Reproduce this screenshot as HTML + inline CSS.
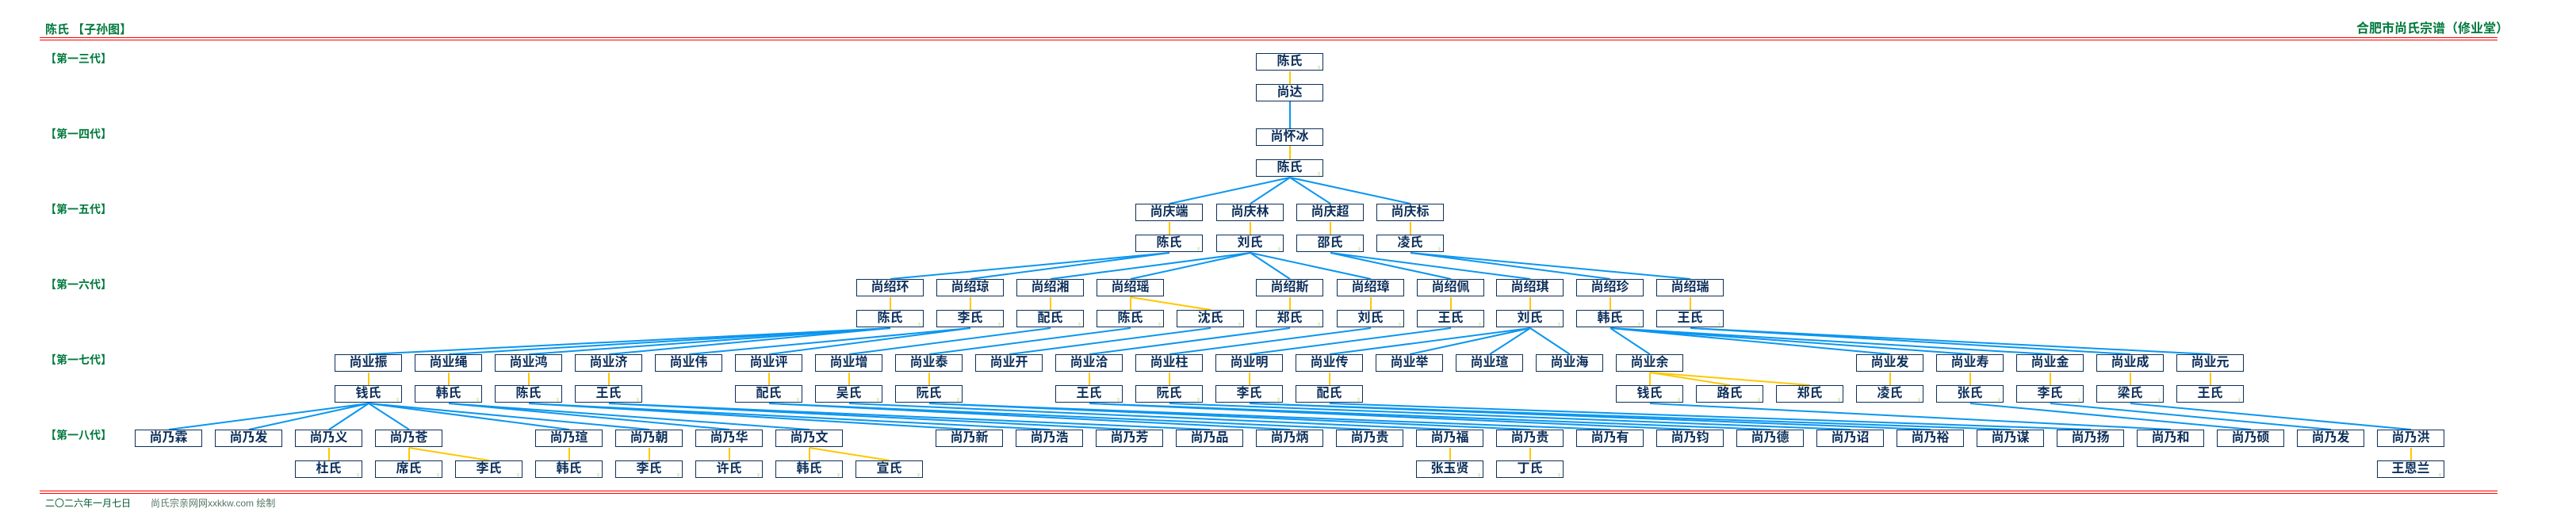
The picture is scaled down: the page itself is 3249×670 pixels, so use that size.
<!DOCTYPE html>
<html><head><meta charset="utf-8">
<style>
body{margin:0;width:3249px;height:670px;background:#fff;position:relative;overflow:hidden;font-family:"Liberation Sans","Noto Sans CJK SC","WenQuanYi Zen Hei",sans-serif;}
.b{position:absolute;width:83px;height:20px;border:1.5px solid #0d2f5a;background:#fff;color:#0d2f5a;font-size:16px;font-weight:bold;line-height:19px;text-align:center;box-sizing:content-box;}
.f::after{content:"♀";position:absolute;right:1px;bottom:-2px;font-size:9px;color:#99cc33;font-weight:normal;line-height:10px;}
.g{position:absolute;left:57px;color:#007a3d;font-size:14px;font-weight:bold;line-height:14px;}
.hl{position:absolute;left:50px;width:3100px;height:1px;background:#f00;}
svg{position:absolute;left:0;top:0;}
</style></head><body>
<div class="g" style="top:31px;font-size:15px">陈氏 【子孙图】</div>
<div class="g" style="top:30px;left:2972px;font-size:16px">合肥市尚氏宗谱（修业堂）</div>
<div class="hl" style="top:47px"></div><div class="hl" style="top:50px"></div>
<div class="hl" style="top:619px"></div><div class="hl" style="top:622px"></div>
<div class="g" style="top:628px;font-size:12px;font-weight:normal;color:#005a30">二〇二六年一月七日</div>
<div class="g" style="top:628px;left:190px;font-size:12px;font-weight:normal;color:#557766">尚氏宗亲网网xxkkw.com 绘制</div>
<div class="g" style="top:67px">【第一三代】</div>
<div class="g" style="top:162px">【第一四代】</div>
<div class="g" style="top:257px">【第一五代】</div>
<div class="g" style="top:352px">【第一六代】</div>
<div class="g" style="top:447px">【第一七代】</div>
<div class="g" style="top:542px">【第一八代】</div>

<svg width="3249" height="670">
<g stroke="#ffc800" stroke-width="2">
<line x1="1627" y1="90" x2="1627" y2="106"/>
<line x1="1627" y1="184" x2="1627" y2="201"/>
<line x1="1475" y1="280" x2="1475" y2="296"/><line x1="1577" y1="280" x2="1577" y2="296"/><line x1="1678" y1="280" x2="1678" y2="296"/><line x1="1779" y1="280" x2="1779" y2="296"/>
<line x1="1123" y1="375" x2="1123" y2="391"/><line x1="1224" y1="375" x2="1224" y2="391"/><line x1="1325" y1="375" x2="1325" y2="391"/><line x1="1426" y1="375" x2="1426" y2="391"/><line x1="1426" y1="375" x2="1527" y2="391"/><line x1="1627" y1="375" x2="1627" y2="391"/><line x1="1729" y1="375" x2="1729" y2="391"/><line x1="1830" y1="375" x2="1830" y2="391"/><line x1="1930" y1="375" x2="1930" y2="391"/><line x1="2031" y1="375" x2="2031" y2="391"/><line x1="2132" y1="375" x2="2132" y2="391"/>
<line x1="465" y1="470" x2="465" y2="486"/><line x1="566" y1="470" x2="566" y2="486"/><line x1="667" y1="470" x2="667" y2="486"/><line x1="768" y1="470" x2="768" y2="486"/><line x1="970" y1="470" x2="970" y2="486"/><line x1="1071" y1="470" x2="1071" y2="486"/><line x1="1172" y1="470" x2="1172" y2="486"/><line x1="1374" y1="470" x2="1374" y2="486"/><line x1="1475" y1="470" x2="1475" y2="486"/><line x1="1576" y1="470" x2="1576" y2="486"/><line x1="1677" y1="470" x2="1677" y2="486"/><line x1="2081" y1="470" x2="2081" y2="486"/><line x1="2081" y1="470" x2="2182" y2="486"/><line x1="2081" y1="470" x2="2283" y2="486"/><line x1="2384" y1="470" x2="2384" y2="486"/><line x1="2485" y1="470" x2="2485" y2="486"/><line x1="2586" y1="470" x2="2586" y2="486"/><line x1="2687" y1="470" x2="2687" y2="486"/><line x1="2788" y1="470" x2="2788" y2="486"/>
<line x1="415" y1="565" x2="415" y2="581"/><line x1="516" y1="565" x2="516" y2="581"/><line x1="516" y1="565" x2="617" y2="581"/><line x1="718" y1="565" x2="718" y2="581"/><line x1="819" y1="565" x2="819" y2="581"/><line x1="920" y1="565" x2="920" y2="581"/><line x1="1021" y1="565" x2="1021" y2="581"/><line x1="1021" y1="565" x2="1122" y2="581"/><line x1="1829" y1="565" x2="1829" y2="581"/><line x1="1930" y1="565" x2="1930" y2="581"/><line x1="3041" y1="565" x2="3041" y2="581"/>
</g>
<g stroke="#0a96f0" stroke-width="2">
<line x1="1627" y1="128" x2="1627" y2="162"/>
<line x1="1627" y1="224" x2="1475" y2="257"/><line x1="1627" y1="224" x2="1577" y2="257"/><line x1="1627" y1="224" x2="1678" y2="257"/><line x1="1627" y1="224" x2="1779" y2="257"/>
<line x1="1475" y1="319" x2="1123" y2="352"/><line x1="1475" y1="319" x2="1224" y2="352"/>
<line x1="1577" y1="319" x2="1325" y2="352"/><line x1="1577" y1="319" x2="1426" y2="352"/><line x1="1577" y1="319" x2="1627" y2="352"/><line x1="1577" y1="319" x2="1729" y2="352"/>
<line x1="1678" y1="319" x2="1830" y2="352"/><line x1="1678" y1="319" x2="1930" y2="352"/>
<line x1="1779" y1="319" x2="2031" y2="352"/><line x1="1779" y1="319" x2="2132" y2="352"/>
<line x1="1123" y1="414" x2="465" y2="447"/><line x1="1123" y1="414" x2="566" y2="447"/><line x1="1123" y1="414" x2="667" y2="447"/><line x1="1123" y1="414" x2="768" y2="447"/>
<line x1="1224" y1="414" x2="869" y2="447"/><line x1="1224" y1="414" x2="970" y2="447"/>
<line x1="1325" y1="414" x2="1071" y2="447"/><line x1="1426" y1="414" x2="1172" y2="447"/><line x1="1527" y1="414" x2="1273" y2="447"/><line x1="1627" y1="414" x2="1374" y2="447"/><line x1="1729" y1="414" x2="1475" y2="447"/><line x1="1830" y1="414" x2="1576" y2="447"/>
<line x1="1930" y1="414" x2="1677" y2="447"/><line x1="1930" y1="414" x2="1778" y2="447"/><line x1="1930" y1="414" x2="1879" y2="447"/><line x1="1930" y1="414" x2="1980" y2="447"/>
<line x1="2031" y1="414" x2="2081" y2="447"/><line x1="2031" y1="414" x2="2384" y2="447"/><line x1="2031" y1="414" x2="2485" y2="447"/><line x1="2031" y1="414" x2="2586" y2="447"/>
<line x1="2132" y1="414" x2="2687" y2="447"/><line x1="2132" y1="414" x2="2788" y2="447"/>
<line x1="465" y1="509" x2="213" y2="542"/><line x1="465" y1="509" x2="314" y2="542"/><line x1="465" y1="509" x2="415" y2="542"/><line x1="465" y1="509" x2="516" y2="542"/><line x1="465" y1="509" x2="718" y2="542"/><line x1="465" y1="509" x2="819" y2="542"/>
<line x1="566" y1="509" x2="920" y2="542"/><line x1="566" y1="509" x2="1021" y2="542"/>
<line x1="667" y1="509" x2="1223" y2="542"/><line x1="667" y1="509" x2="1324" y2="542"/>
<line x1="768" y1="509" x2="1425" y2="542"/><line x1="768" y1="509" x2="1526" y2="542"/>
<line x1="970" y1="509" x2="1627" y2="542"/><line x1="970" y1="509" x2="1728" y2="542"/>
<line x1="1071" y1="509" x2="1829" y2="542"/>
<line x1="1172" y1="509" x2="1930" y2="542"/><line x1="1172" y1="509" x2="2031" y2="542"/>
<line x1="1374" y1="509" x2="2132" y2="542"/><line x1="1374" y1="509" x2="2233" y2="542"/>
<line x1="1475" y1="509" x2="2334" y2="542"/>
<line x1="1576" y1="509" x2="2435" y2="542"/><line x1="1576" y1="509" x2="2536" y2="542"/>
<line x1="1677" y1="509" x2="2637" y2="542"/>
<line x1="2081" y1="509" x2="2738" y2="542"/>
<line x1="2485" y1="509" x2="2839" y2="542"/>
<line x1="2586" y1="509" x2="2940" y2="542"/>
<line x1="2687" y1="509" x2="3041" y2="542"/>
</g>
</svg>

<div class="b f" style="left:1584px;top:67px">陈氏</div>
<div class="b" style="left:1584px;top:106px">尚达</div>
<div class="b" style="left:1584px;top:162px">尚怀冰</div>
<div class="b f" style="left:1584px;top:201px">陈氏</div>

<div class="b" style="left:1432px;top:257px">尚庆端</div>
<div class="b" style="left:1534px;top:257px">尚庆林</div>
<div class="b" style="left:1635px;top:257px">尚庆超</div>
<div class="b" style="left:1736px;top:257px">尚庆标</div>
<div class="b f" style="left:1432px;top:296px">陈氏</div>
<div class="b f" style="left:1534px;top:296px">刘氏</div>
<div class="b f" style="left:1635px;top:296px">邵氏</div>
<div class="b f" style="left:1736px;top:296px">凌氏</div>

<div class="b" style="left:1080px;top:352px">尚绍环</div>
<div class="b" style="left:1181px;top:352px">尚绍琼</div>
<div class="b" style="left:1282px;top:352px">尚绍湘</div>
<div class="b" style="left:1383px;top:352px">尚绍瑶</div>
<div class="b" style="left:1584px;top:352px">尚绍斯</div>
<div class="b" style="left:1686px;top:352px">尚绍璋</div>
<div class="b" style="left:1787px;top:352px">尚绍佩</div>
<div class="b" style="left:1887px;top:352px">尚绍琪</div>
<div class="b" style="left:1988px;top:352px">尚绍珍</div>
<div class="b" style="left:2089px;top:352px">尚绍瑞</div>
<div class="b f" style="left:1080px;top:391px">陈氏</div>
<div class="b f" style="left:1181px;top:391px">李氏</div>
<div class="b f" style="left:1282px;top:391px">配氏</div>
<div class="b f" style="left:1383px;top:391px">陈氏</div>
<div class="b f" style="left:1484px;top:391px">沈氏</div>
<div class="b f" style="left:1584px;top:391px">郑氏</div>
<div class="b f" style="left:1686px;top:391px">刘氏</div>
<div class="b f" style="left:1787px;top:391px">王氏</div>
<div class="b f" style="left:1887px;top:391px">刘氏</div>
<div class="b f" style="left:1988px;top:391px">韩氏</div>
<div class="b f" style="left:2089px;top:391px">王氏</div>

<div class="b" style="left:422px;top:447px">尚业振</div>
<div class="b" style="left:523px;top:447px">尚业绳</div>
<div class="b" style="left:624px;top:447px">尚业鸿</div>
<div class="b" style="left:725px;top:447px">尚业济</div>
<div class="b" style="left:826px;top:447px">尚业伟</div>
<div class="b" style="left:927px;top:447px">尚业评</div>
<div class="b" style="left:1028px;top:447px">尚业增</div>
<div class="b" style="left:1129px;top:447px">尚业泰</div>
<div class="b" style="left:1230px;top:447px">尚业开</div>
<div class="b" style="left:1331px;top:447px">尚业洽</div>
<div class="b" style="left:1432px;top:447px">尚业柱</div>
<div class="b" style="left:1533px;top:447px">尚业明</div>
<div class="b" style="left:1634px;top:447px">尚业传</div>
<div class="b" style="left:1735px;top:447px">尚业举</div>
<div class="b" style="left:1836px;top:447px">尚业瑄</div>
<div class="b" style="left:1937px;top:447px">尚业海</div>
<div class="b" style="left:2038px;top:447px">尚业余</div>
<div class="b" style="left:2341px;top:447px">尚业发</div>
<div class="b" style="left:2442px;top:447px">尚业寿</div>
<div class="b" style="left:2543px;top:447px">尚业金</div>
<div class="b" style="left:2644px;top:447px">尚业成</div>
<div class="b" style="left:2745px;top:447px">尚业元</div>
<div class="b f" style="left:422px;top:486px">钱氏</div>
<div class="b f" style="left:523px;top:486px">韩氏</div>
<div class="b f" style="left:624px;top:486px">陈氏</div>
<div class="b f" style="left:725px;top:486px">王氏</div>
<div class="b f" style="left:927px;top:486px">配氏</div>
<div class="b f" style="left:1028px;top:486px">吴氏</div>
<div class="b f" style="left:1129px;top:486px">阮氏</div>
<div class="b f" style="left:1331px;top:486px">王氏</div>
<div class="b f" style="left:1432px;top:486px">阮氏</div>
<div class="b f" style="left:1533px;top:486px">李氏</div>
<div class="b f" style="left:1634px;top:486px">配氏</div>
<div class="b f" style="left:2038px;top:486px">钱氏</div>
<div class="b f" style="left:2139px;top:486px">路氏</div>
<div class="b f" style="left:2240px;top:486px">郑氏</div>
<div class="b f" style="left:2341px;top:486px">凌氏</div>
<div class="b f" style="left:2442px;top:486px">张氏</div>
<div class="b f" style="left:2543px;top:486px">李氏</div>
<div class="b f" style="left:2644px;top:486px">梁氏</div>
<div class="b f" style="left:2745px;top:486px">王氏</div>

<div class="b" style="left:170px;top:542px">尚乃霖</div>
<div class="b" style="left:271px;top:542px">尚乃发</div>
<div class="b" style="left:372px;top:542px">尚乃义</div>
<div class="b" style="left:473px;top:542px">尚乃苍</div>
<div class="b" style="left:675px;top:542px">尚乃瑄</div>
<div class="b" style="left:776px;top:542px">尚乃朝</div>
<div class="b" style="left:877px;top:542px">尚乃华</div>
<div class="b" style="left:978px;top:542px">尚乃文</div>
<div class="b" style="left:1180px;top:542px">尚乃新</div>
<div class="b" style="left:1281px;top:542px">尚乃浩</div>
<div class="b" style="left:1382px;top:542px">尚乃芳</div>
<div class="b" style="left:1483px;top:542px">尚乃品</div>
<div class="b" style="left:1584px;top:542px">尚乃炳</div>
<div class="b" style="left:1685px;top:542px">尚乃贵</div>
<div class="b" style="left:1786px;top:542px">尚乃福</div>
<div class="b" style="left:1887px;top:542px">尚乃贵</div>
<div class="b" style="left:1988px;top:542px">尚乃有</div>
<div class="b" style="left:2089px;top:542px">尚乃钧</div>
<div class="b" style="left:2190px;top:542px">尚乃德</div>
<div class="b" style="left:2291px;top:542px">尚乃诏</div>
<div class="b" style="left:2392px;top:542px">尚乃裕</div>
<div class="b" style="left:2493px;top:542px">尚乃谋</div>
<div class="b" style="left:2594px;top:542px">尚乃扬</div>
<div class="b" style="left:2695px;top:542px">尚乃和</div>
<div class="b" style="left:2796px;top:542px">尚乃硕</div>
<div class="b" style="left:2897px;top:542px">尚乃发</div>
<div class="b" style="left:2998px;top:542px">尚乃洪</div>
<div class="b f" style="left:372px;top:581px">杜氏</div>
<div class="b f" style="left:473px;top:581px">席氏</div>
<div class="b f" style="left:574px;top:581px">李氏</div>
<div class="b f" style="left:675px;top:581px">韩氏</div>
<div class="b f" style="left:776px;top:581px">李氏</div>
<div class="b f" style="left:877px;top:581px">许氏</div>
<div class="b f" style="left:978px;top:581px">韩氏</div>
<div class="b f" style="left:1079px;top:581px">宣氏</div>
<div class="b f" style="left:1786px;top:581px">张玉贤</div>
<div class="b f" style="left:1887px;top:581px">丁氏</div>
<div class="b f" style="left:2998px;top:581px">王恩兰</div>
</body></html>
